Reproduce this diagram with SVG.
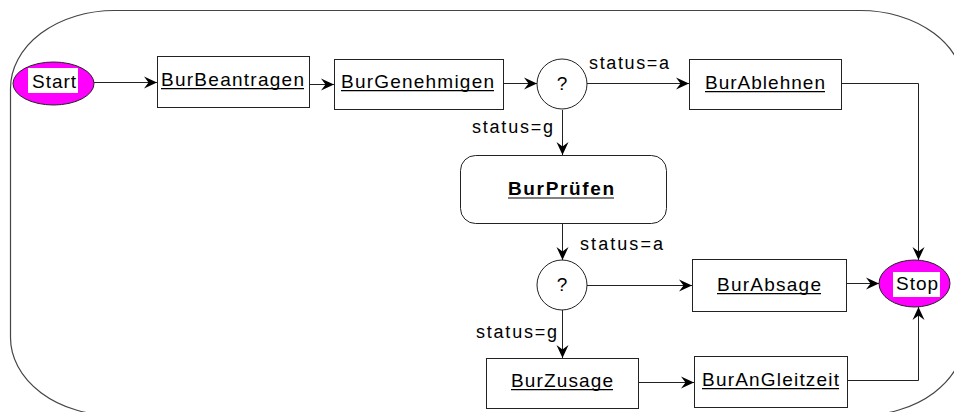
<svg xmlns="http://www.w3.org/2000/svg" width="954" height="412" viewBox="0 0 954 412">
<defs>
<style>
.frame{fill:none;stroke:#444;stroke-width:1.2}
.box{fill:#fff;stroke:#222;stroke-width:1}
.term{fill:#ff00ff;stroke:#222;stroke-width:1}
.lbl{font-family:"Liberation Sans",Arial,sans-serif;font-size:19px;fill:#000}
.bold{font-weight:bold}
.ul{stroke:#000;stroke-width:1.2}
.plain{font-family:"Liberation Sans",Arial,sans-serif;font-size:19px;fill:#000}
.cond{font-family:"Liberation Sans",Arial,sans-serif;font-size:18px;fill:#000}
.edge{fill:none;stroke:#222;stroke-width:1;marker-end:url(#arr)}
</style>
<marker id="arr" markerUnits="userSpaceOnUse" markerWidth="16" markerHeight="16" viewBox="-14 -8 16 16" refX="0" refY="0" orient="auto">
<path d="M0,0 L-13,-6 L-8.5,0 L-13,6 Z" fill="#000"/>
</marker>
</defs>
<rect class="frame" x="10.5" y="10.5" width="954" height="405" rx="104" ry="78"/>
<g id="connectors">
<path class="edge" d="M94,82.5 L157,82.5"/>
<path class="edge" d="M309,84.5 L334,84.5"/>
<path class="edge" d="M503,83.5 L537,83.5"/>
<path class="edge" d="M587,83.5 L689,83.5"/>
<path class="edge" d="M562.5,110 L562.5,155"/>
<path class="edge" d="M841,83.5 L918.5,83.5 L918.5,260"/>
<path class="edge" d="M562.5,223 L562.5,260"/>
<path class="edge" d="M587,285.5 L692,285.5"/>
<path class="edge" d="M562.5,310 L562.5,358"/>
<path class="edge" d="M846,283.5 L879,283.5"/>
<path class="edge" d="M638,382.5 L694,382.5"/>
<path class="edge" d="M847,380.5 L918.5,380.5 L918.5,307"/>
<text class="cond" x="589" y="69" textLength="80" lengthAdjust="spacing">status=a</text>
<text class="cond" x="472" y="133" textLength="81" lengthAdjust="spacing">status=g</text>
<text class="cond" x="580" y="250" textLength="83" lengthAdjust="spacing">status=a</text>
<text class="cond" x="476" y="338" textLength="81" lengthAdjust="spacing">status=g</text>
</g>
<g id="start">
<ellipse class="term" cx="53.5" cy="83.5" rx="40.5" ry="21.5"/>
<rect x="28" y="68" width="50" height="25" fill="#fff"/>
<text class="plain" x="32" y="88" font-size="20" textLength="44" lengthAdjust="spacing">Start</text>
</g>
<g id="burBeantragen">
<rect class="box" x="157.5" y="56.5" width="152" height="51"/>
<text class="lbl" x="161" y="86" textLength="143" lengthAdjust="spacing">BurBeantragen</text>
<line class="ul" x1="161" y1="88.6" x2="304" y2="88.6"/>
</g>
<g id="burGenehmigen">
<rect class="box" x="334.5" y="59.5" width="169" height="50"/>
<text class="lbl" x="341" y="88" textLength="153" lengthAdjust="spacing">BurGenehmigen</text>
<line class="ul" x1="341" y1="90.6" x2="494" y2="90.6"/>
</g>
<g id="decision1">
<circle class="box" cx="562" cy="84" r="25"/>
<text class="plain" x="562" y="90" text-anchor="middle">?</text>
</g>
<g id="burAblehnen">
<rect class="box" x="689.5" y="59.5" width="152" height="50"/>
<text class="lbl" x="705" y="89" textLength="120" lengthAdjust="spacing">BurAblehnen</text>
<line class="ul" x1="705" y1="91.6" x2="825" y2="91.6"/>
</g>
<g id="burPruefen">
<rect class="box" x="460.5" y="155.5" width="206" height="68" rx="15" ry="15"/>
<text class="lbl bold" x="508" y="195" textLength="106" lengthAdjust="spacing">BurPrüfen</text>
<line class="ul" x1="508" y1="198" x2="614" y2="198" stroke-width="1.6"/>
</g>
<g id="decision2">
<circle class="box" cx="562" cy="285" r="25"/>
<text class="plain" x="562" y="291" text-anchor="middle">?</text>
</g>
<g id="burAbsage">
<rect class="box" x="692.5" y="259.5" width="154" height="52"/>
<text class="lbl" x="717" y="291" textLength="104" lengthAdjust="spacing">BurAbsage</text>
<line class="ul" x1="717" y1="293.6" x2="821" y2="293.6"/>
</g>
<g id="burZusage">
<rect class="box" x="486.5" y="358.5" width="152" height="50"/>
<text class="lbl" x="511" y="387" textLength="102" lengthAdjust="spacing">BurZusage</text>
<line class="ul" x1="511" y1="389.6" x2="613" y2="389.6"/>
</g>
<g id="burAnGleitzeit">
<rect class="box" x="694.5" y="356.5" width="153" height="51"/>
<text class="lbl" x="702" y="386" textLength="137" lengthAdjust="spacing">BurAnGleitzeit</text>
<line class="ul" x1="702" y1="388.6" x2="839" y2="388.6"/>
</g>
<g id="stop">
<ellipse class="term" cx="914.5" cy="283.5" rx="35.5" ry="23.5"/>
<rect x="893" y="272" width="47" height="25" fill="#fff"/>
<text class="plain" x="896" y="290" font-size="20" textLength="42" lengthAdjust="spacing">Stop</text>
</g>
</svg>
